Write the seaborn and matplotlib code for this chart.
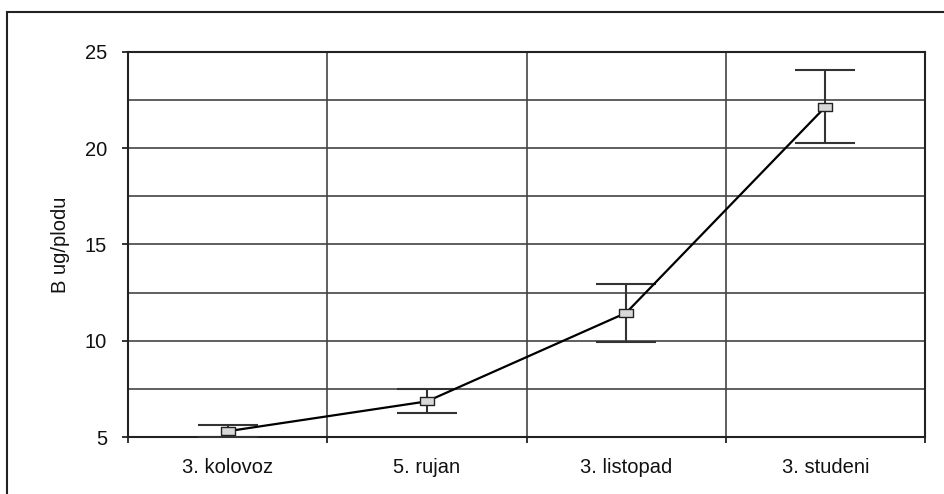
import matplotlib
matplotlib.use("Agg")
import matplotlib.pyplot as plt
import seaborn as sns
import numpy as np
import pandas as pd
from matplotlib.patches import Rectangle

categories = ["3. kolovoz", "5. rujan", "3. listopad", "3. studeni"]
means = [5.3, 6.85, 11.45, 22.15]
errors = [0.32, 0.62, 1.5, 1.9]
y_ticks = [5, 10, 15, 20, 25]

sns.set_theme(style="white")
plt.rcParams['font.family'] = ['Liberation Sans', 'DejaVu Sans']

fig = plt.figure(figsize=(9.44, 4.94), dpi=100)
ax = fig.add_axes([128/944, 57/494, (925-128)/944, (437-52)/494])

# outer frame
fig.patches.append(Rectangle((7/944, -0.1), 1.2, (494-12)/494 + 0.1,
                             transform=fig.transFigure, fill=False,
                             edgecolor="#222222", linewidth=1.5, zorder=0))

df = pd.DataFrame({"x": np.arange(len(categories)), "y": means, "err": errors})

ax.errorbar(df["x"], df["y"], yerr=df["err"], fmt="none", ecolor="#333333",
            elinewidth=1.5, capsize=21.5, capthick=1.5, zorder=3)

rect_marker = [(-1, -0.55), (1, -0.55), (1, 0.55), (-1, 0.55), (-1, -0.55)]
sns.lineplot(data=df, x="x", y="y", ax=ax, color="black", linewidth=1.6,
             marker=rect_marker, markersize=10.5, markerfacecolor="#d8d8d8",
             markeredgecolor="#222222", markeredgewidth=1.0, zorder=4)

ax.set_xlim(-0.5, 3.5)
ax.set_ylim(5, 25)
ax.set_yticks(y_ticks)
ax.set_yticks([7.5, 12.5, 17.5, 22.5], minor=True)
ax.set_xticks([-0.5, 0.5, 1.5, 2.5, 3.5])
ax.set_xticklabels([])
ax.set_xticks(np.arange(len(categories)), minor=True)
ax.set_xticklabels(categories, minor=True)
ax.tick_params(bottom=True, left=True, which="major")
ax.tick_params(axis="x", which="minor", bottom=True, length=0, pad=15, labelsize=14.5, colors="#111111")
ax.tick_params(axis="x", which="major", length=4, width=1.3, color="#222222", direction="out")
ax.tick_params(axis="y", which="major", length=4, width=1.3, color="#222222",
               direction="out", labelsize=14.5, labelcolor="#111111", pad=11)
ax.tick_params(axis="y", which="minor", length=0)

ax.grid(True, axis="y", which="both", color="#444444", linewidth=1.2)
ax.grid(True, axis="x", which="major", color="#444444", linewidth=1.2)
ax.set_axisbelow(True)
for s in ax.spines.values():
    s.set_color("#222222")
    s.set_linewidth(1.5)
    s.set_visible(True)

ax.set_xlabel("")
ax.set_ylabel("B ug/plodu", fontsize=14.5, color="#111111", labelpad=11)

fig.savefig("out.png", dpi=100)
